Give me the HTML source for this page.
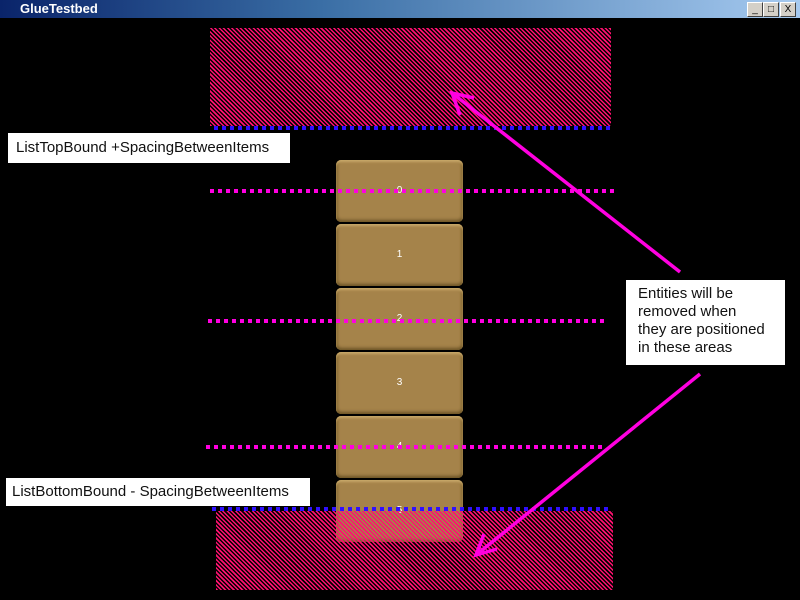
<!DOCTYPE html>
<html><head><style>
body{margin:0;width:800px;height:600px;background:#000;position:relative;overflow:hidden;font-family:"Liberation Sans",sans-serif}
.tb{position:absolute;left:0;top:0;width:800px;height:18px;background:linear-gradient(90deg,#0a246a,#3a6ea5 40%,#a6caf0)}
.tb span{position:absolute;left:20px;top:1px;color:#fff;font-weight:bold;font-size:13px}
.btn{position:absolute;top:2px;width:14px;height:13px;background:#d4d0c8;border:1px solid;border-color:#fff #404040 #404040 #fff;font-size:10px;line-height:13px;text-align:center;color:#000}
.h{position:absolute;background:repeating-linear-gradient(45deg,#ff1070 0 1.5px,transparent 1.5px 3px)}
.bx{position:absolute;left:336px;width:127px;height:62px;background:#a5834a;border-radius:5px;box-shadow:inset 0 2px 2px #c9a96a,inset 0 -2px 3px #6d5528,inset 2px 0 2px #8e7038,inset -2px 0 2px #8e7038;color:#fff;font-size:10px;text-align:center;line-height:62px}
.dot{position:absolute;height:4px}
.b{background:repeating-linear-gradient(90deg,#3010ff 0 4px,transparent 4px 8px)}
.m{background:repeating-linear-gradient(90deg,#ff00e0 0 4px,transparent 4px 8px)}
.lab{position:absolute;background:#fff;color:#111;font-size:15px}
</style></head><body>
<div class="tb"><span>GlueTestbed</span>
<div class="btn" style="left:747px">_</div><div class="btn" style="left:763px">□</div><div class="btn" style="left:780px">X</div></div>
<div class="h" style="left:210px;top:28px;width:401px;height:98px"></div>
<div class="bx" style="top:160px">0</div>
<div class="bx" style="top:224px">1</div>
<div class="bx" style="top:288px">2</div>
<div class="bx" style="top:352px">3</div>
<div class="bx" style="top:416px">4</div>
<div class="bx" style="top:480px">5</div>
<div class="h" style="left:216px;top:511px;width:397px;height:79px"></div>
<div class="dot b" style="left:214px;top:126px;width:398px"></div>
<div class="dot b" style="left:212px;top:507px;width:398px"></div>
<div class="dot m" style="left:210px;top:189px;width:405px"></div>
<div class="dot m" style="left:208px;top:319px;width:396px"></div>
<div class="dot m" style="left:206px;top:445px;width:398px"></div>
<svg style="position:absolute;left:0;top:0" width="800" height="600">
<g stroke="#ff00e0" stroke-width="3.5" fill="none">
<line x1="680" y1="272" x2="452" y2="93"/><polyline points="474,98 452,93 460,115"/>
<line x1="700" y1="374" x2="476" y2="555"/><polyline points="497,549 476,555 484,534"/>
</g></svg>
<div class="lab" style="left:8px;top:133px;width:282px;height:30px;line-height:30px;text-indent:8px">ListTopBound +SpacingBetweenItems</div>
<div class="lab" style="left:6px;top:478px;width:304px;height:28px;line-height:28px;text-indent:6px">ListBottomBound - SpacingBetweenItems</div>
<div class="lab" style="left:626px;top:280px;width:147px;height:74px;padding:5px 0 6px 12px;line-height:18px">Entities will be<br>removed when<br>they are positioned<br>in these areas</div>
</body></html>
